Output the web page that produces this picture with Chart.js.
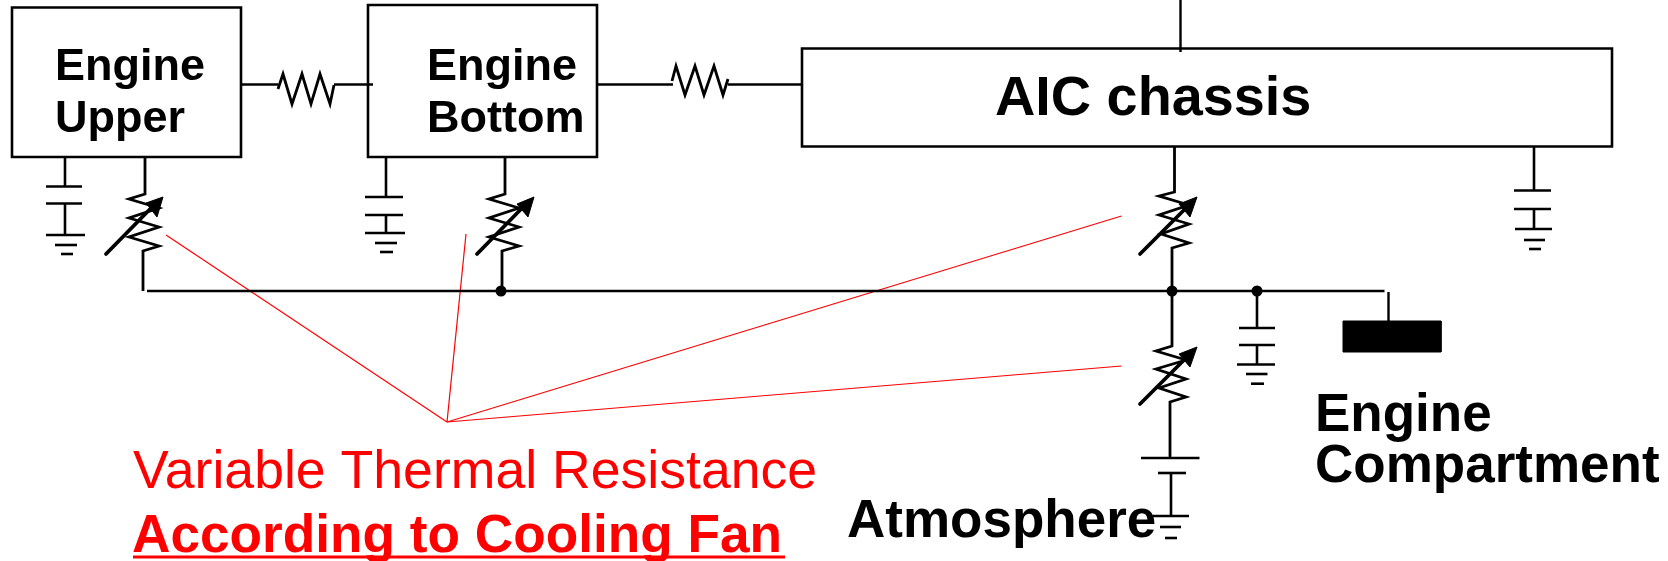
<!DOCTYPE html>
<html>
<head>
<meta charset="utf-8">
<title>Thermal network</title>
<style>
  html, body { margin: 0; padding: 0; background: #fff; overflow: hidden; }
  canvas { display: block; }
</style>
<script src="https://cdn.jsdelivr.net/npm/chart.js@4/dist/chart.umd.min.js"></script>
</head>
<body>
<canvas id="diagram" width="1668" height="561"></canvas>
<script>
// boxes
const engineUpperBox = [[12,7.5],[241,7.5],[241,157],[12,157],[12,7.5]];
const engineBottomBox = [[368,5],[597,5],[597,157],[368,157],[368,5]];
const chassisBox = [[802,48.5],[1612,48.5],[1612,146.5],[802,146.5],[802,48.5]];

// wires
const wireUpperToBottom = [[241,84.5],[278,84.5]];
const wireUpperToBottom2 = [[334,84.5],[373,84.5]];
const wireBottomToChassis = [[597,84.5],[673,84.5]];
const wireBottomToChassis2 = [[728,84.5],[802,84.5]];
const wireTop = [[1180.5,0],[1180.5,52]];
const bus = [[147,291],[1384.5,291]];
const wireToBlock = [[1388.5,292],[1388.5,321]];

// fixed resistors
const fixedRes1 = [[278,89],[283,74],[292,104],[302,74],[311,104],[320,74],[330,104],[334,85]];
const fixedRes2 = [[672,81],[676,66],[685,95],[695,66],[704,95],[714,66],[723,95],[728,79]];

// variable resistors, stem to stem
const varRes1 = [[145,157],[145,194],[129,199],[159,208],[129,218],[159,227],[129,237],[159,246],[143,251],[143,291]];
const varRes2 = [[505,157],[505,194],[489,199],[519,208],[489,218],[519,227],[489,237],[519,246],[502,251],[502,291]];
const varRes3 = [[1174.5,147],[1174.5,192],[1159,196],[1189,205],[1159,215],[1189,224],[1161,234],[1189,243],[1172,248],[1172,291]];
const varRes4 = [[1172,291],[1172,346],[1156,351],[1186,360],[1156,369],[1186,379],[1159,388],[1186,397],[1170,402],[1170,456]];

// arrows through the variable resistors
const arrow1 = [[106,254],[158,201]];
const arrow2 = [[477,254],[529,201]];
const arrow3 = [[1140,254],[1192,202]];
const arrow4 = [[1140,404],[1192,352]];
const arrowHead1 = [[163,197],[146,203],[157,217],[163,197]];
const arrowHead2 = [[534,197],[517,204],[528,217],[534,197]];
const arrowHead3 = [[1197,197],[1179,204],[1190,217],[1197,197]];
const arrowHead4 = [[1197,347],[1179,354],[1190,367],[1197,347]];

// capacitors to ground: stem, plate, plate, stem, ground bars
const cap1 = [
  [[65,157],[65,186.5]], [[46,186.5],[82,186.5]], [[46,203.5],[82,203.5]], [[65,203.5],[65,235]],
  [[46,235],[85,235]], [[55,245],[77,245]], [[61,254],[73,254]]
];
const cap2 = [
  [[386,157],[386,197]], [[365,197],[403,197]], [[365,215],[403,215]], [[386,215],[386,233]],
  [[365,233],[405,233]], [[375,243],[397,243]], [[380,252],[393,252]]
];
const cap3 = [
  [[1257,291],[1257,328]], [[1239,328],[1275,328]], [[1239,345],[1275,345]], [[1257,345],[1257,364.5]],
  [[1237,364.5],[1275,364.5]], [[1246,374],[1267.5,374]], [[1251,383.7],[1264,383.7]]
];
const cap4 = [
  [[1534,147],[1534,190.5]], [[1514,190.5],[1551,190.5]], [[1514,209],[1551,209]], [[1534,209],[1534,229]],
  [[1515,229],[1552,229]], [[1524,240],[1545,240]], [[1529,249],[1541,249]]
];
const cap5 = [
  [[1170,456],[1170,458]], [[1141,458],[1199.5,458]], [[1158,473],[1186,473]], [[1171,473],[1171,516]],
  [[1153,516],[1189,516]], [[1160,527],[1181,527]], [[1165,538],[1177,538]]
];

const junctions = [[501,291],[1172,291],[1257,291]];
const block = [[1343,321],[1441,321],[1441,352],[1343,352],[1343,321]];

// red leader lines
const leaderApex = [447,422];
const leaderEnds = [[166,235],[466,234],[1121.5,216],[1121.5,366]];
const underline = [[133,557],[785,557]];

// text
const labelTexts = ["Engine","Upper","Engine","Bottom","AIC chassis","Engine","Compartment","Atmosphere","Variable Thermal Resistance","According to Cooling Fan"];
const labelX = [55,55,427,427,995,1315,1315,847,133,132];
const labelY = [80,131.5,80,131.5,115,431,482,536.5,488,551.5];
const labelSize = [45,45,45,45,55.8,53,53,53,53.6,53.2];
const labelBold = [true,true,true,true,true,true,true,true,false,true];
const labelRed = [false,false,false,false,false,false,false,false,true,true];

function toPoints(list) {
  return list.map(function (p) { return { x: p[0], y: p[1] }; });
}

function stroke(list, width, color) {
  return {
    data: toPoints(list),
    showLine: true,
    borderColor: color || "#000",
    borderWidth: width,
    pointRadius: 0,
    tension: 0,
    fill: false,
    borderJoinStyle: "miter"
  };
}

function solid(list) {
  return {
    data: toPoints(list),
    showLine: true,
    borderColor: "#000",
    borderWidth: 1,
    backgroundColor: "#000",
    pointRadius: 0,
    tension: 0,
    fill: "shape"
  };
}

let datasets = [];

[engineUpperBox, engineBottomBox, chassisBox].forEach(function (b) {
  let d = stroke(b, 2.6);
  d.borderCapStyle = "square";
  datasets.push(d);
});

[wireUpperToBottom, wireUpperToBottom2, wireBottomToChassis, wireBottomToChassis2, wireTop, bus, wireToBlock].forEach(function (w) {
  datasets.push(stroke(w, 2.4));
});

[fixedRes1, fixedRes2, varRes1, varRes2, varRes3, varRes4].forEach(function (r) {
  datasets.push(stroke(r, 2.8));
});

[arrow1, arrow2, arrow3, arrow4].forEach(function (a) {
  let d = stroke(a, 3.8);
  d.borderCapStyle = "round";
  datasets.push(d);
});

[arrowHead1, arrowHead2, arrowHead3, arrowHead4, block].forEach(function (s) {
  datasets.push(solid(s));
});

[cap1, cap2, cap3, cap4, cap5].forEach(function (cap) {
  cap.forEach(function (seg) {
    datasets.push(stroke(seg, 2.6));
  });
});

datasets.push({
  data: toPoints(junctions),
  showLine: false,
  pointRadius: 5.5,
  pointBackgroundColor: "#000",
  pointBorderWidth: 0
});

leaderEnds.forEach(function (end) {
  datasets.push(stroke([leaderApex, end], 1.2, "#ff0000"));
});
datasets.push(stroke(underline, 3.2, "#ff0000"));

// draws the labels at axis positions
const labelPlugin = {
  id: "labels",
  afterDatasetsDraw: function (chart) {
    const ctx = chart.ctx;
    ctx.save();
    ctx.textBaseline = "alphabetic";
    ctx.textAlign = "left";
    labelTexts.forEach(function (text, i) {
      ctx.font = (labelBold[i] ? "bold " : "") + labelSize[i] + "px 'Liberation Sans', Arial, sans-serif";
      ctx.fillStyle = labelRed[i] ? "#ff0000" : "#000";
      ctx.fillText(text, chart.scales.x.getPixelForValue(labelX[i]), chart.scales.y.getPixelForValue(labelY[i]));
    });
    ctx.restore();
  }
};

new Chart(document.getElementById("diagram").getContext("2d"), {
  type: "scatter",
  data: { datasets: datasets },
  plugins: [labelPlugin],
  options: {
    responsive: false,
    animation: false,
    devicePixelRatio: 1,
    layout: { padding: 0, autoPadding: false },
    plugins: { legend: { display: false }, tooltip: { enabled: false }, title: { display: false } },
    events: [],
    scales: {
      x: { type: "linear", min: 0, max: 1668, display: false },
      y: { type: "linear", min: 0, max: 561, reverse: true, display: false }
    }
  }
});
</script>
</body>
</html>
